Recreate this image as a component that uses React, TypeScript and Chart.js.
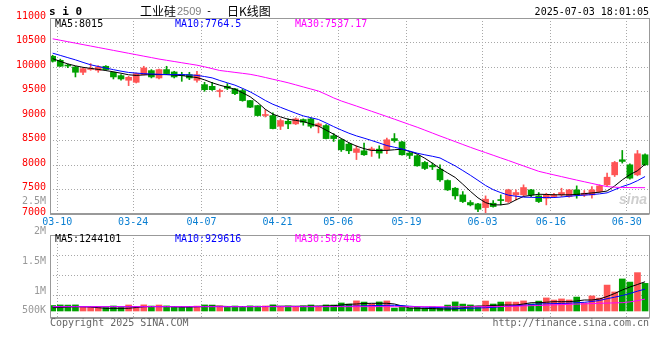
import React, { useEffect, useRef } from "react";
import { Chart, registerables } from "chart.js";

Chart.register(...registerables);

// ---------------- DATA ----------------
const DATES = [
  "03-10","03-11","03-12","03-13","03-14","03-17","03-18","03-19","03-20","03-21",
  "03-24","03-25","03-26","03-27","03-28","03-31","04-01","04-02","04-03","04-07",
  "04-08","04-09","04-10","04-11","04-14","04-15","04-16","04-17","04-18","04-21",
  "04-22","04-23","04-24","04-25","04-28","04-29","04-30","05-06","05-07","05-08",
  "05-09","05-12","05-13","05-14","05-15","05-16","05-19","05-20","05-21","05-22",
  "05-23","05-26","05-27","05-28","05-29","05-30","06-03","06-04","06-05","06-06",
  "06-09","06-10","06-11","06-12","06-13","06-16","06-17","06-18","06-19","06-20",
  "06-23","06-24","06-25","06-26","06-27","06-30","07-01","07-02","07-03",
];

const X_LABELS = ["03-10","03-24","04-07","04-21","05-06","05-19","06-03","06-16","06-30"];

const OPEN = [
  10219,10137,10040,10001,9892,9950,9933,10015,9892,9824,
  9729,9688,9844,9926,9776,9947,9899,9844,9844,9729,
  9640,9606,9500,9607,9553,9519,9315,9213,9010,9009,
  8791,8893,8839,8927,8941,8791,8805,8597,8515,8427,
  8256,8290,8305,8324,8311,8539,8471,8243,8188,8052,
  7990,7915,7683,7526,7390,7234,7206,7131,7220,7288,
  7254,7390,7390,7492,7370,7322,7356,7390,7356,7492,
  7390,7390,7458,7595,7799,8107,8004,7799,8209,
];
const HIGH = [
  10240,10160,10060,10015,9981,10070,10028,10028,9900,9844,
  9810,9878,10015,9947,9960,10015,9913,9892,9892,9913,
  9688,9688,9551,9661,9566,9553,9320,9220,9130,9063,
  8941,8941,8961,8941,8961,8859,8825,8642,8533,8447,
  8392,8447,8365,8392,8549,8642,8485,8277,8209,8073,
  8039,8004,7697,7540,7458,7274,7220,7370,7274,7390,
  7506,7492,7595,7506,7438,7424,7424,7526,7506,7574,
  7479,7560,7595,7833,8073,8297,8025,8297,8229,
];
const LOW = [
  10100,10010,9985,9797,9845,9933,9892,9933,9756,9729,
  9620,9674,9838,9776,9756,9844,9776,9708,9742,9688,
  9504,9524,9388,9539,9437,9301,9170,9000,8980,8737,
  8723,8743,8825,8812,8757,8655,8533,8481,8277,8229,
  8111,8195,8175,8138,8229,8465,8200,8131,7975,7907,
  7907,7663,7479,7302,7234,7165,7050,7016,7138,7186,
  7234,7288,7356,7356,7234,7186,7342,7356,7342,7322,
  7356,7322,7438,7574,7765,8039,7711,7780,7990,
];
const CLOSE = [
  10117,10015,10020,9892,9967,9960,10001,9947,9797,9756,
  9790,9865,9981,9797,9947,9865,9797,9824,9776,9844,
  9537,9537,9510,9566,9457,9315,9179,9009,9030,8743,
  8907,8839,8941,8873,8791,8839,8539,8539,8311,8290,
  8331,8209,8330,8243,8515,8499,8209,8195,7983,7929,
  7962,7697,7492,7370,7254,7186,7097,7302,7152,7274,
  7492,7438,7540,7390,7254,7390,7390,7438,7492,7390,
  7424,7492,7574,7751,8052,8073,7731,8229,8004,
];

const MA5 = [
  10170,10115,10063,10024,9993,9972,9951,9927,9902,9873,
  9841,9828,9838,9845,9845,9845,9835,9825,9805,9784,
  9738,9678,9629,9588,9547,9474,9393,9274,9137,9037,
  8982,8934,8911,8885,8839,8793,8713,8628,8542,8455,
  8386,8334,8297,8297,8298,8311,8323,8276,8224,8138,
  8037,7930,7838,7746,7609,7463,7330,7232,7186,7186,
  7207,7288,7359,7381,7403,7399,7393,7391,7391,7400,
  7415,7430,7445,7469,7573,7697,7803,7883,8015,
];
const MA10 = [
  10282,10237,10191,10146,10094,10045,10011,9978,9946,9915,
  9889,9876,9864,9858,9851,9845,9845,9845,9840,9828,
  9806,9778,9725,9677,9630,9564,9493,9408,9317,9239,
  9177,9117,9058,9002,8965,8929,8858,8783,8714,8649,
  8594,8548,8500,8449,8397,8362,8327,8284,8241,8208,
  8178,8144,8063,7982,7887,7790,7687,7582,7497,7436,
  7385,7363,7344,7340,7336,7336,7336,7347,7363,7375,
  7385,7396,7411,7432,7496,7560,7610,7680,7764.5,
];
const MA30 = [
  10575,10546,10516,10487,10457,10428,10398,10369,10339,10310,
  10280,10251,10221,10192,10162,10137,10112,10087,10062,10037,
  10004,9967,9929,9910,9890,9871,9851,9821,9786,9750,
  9715,9678,9636,9593,9551,9509,9441,9369,9307,9255,
  9203,9149,9096,9043,8989,8935,8880,8825,8771,8712,
  8652,8592,8535,8477,8419,8361,8306,8253,8199,8145,
  8092,8036,7981,7926,7871,7834,7798,7763,7727,7692,
  7658,7624,7590,7559,7547,7540,7539,7538,7537.17,
];

const VOLUME = [
  234000,257000,252000,259000,168000,172000,166000,148000,214000,151000,
  256000,169000,261000,211000,254000,216000,171000,167000,174000,209000,
  258000,253000,215000,169000,212000,173000,218000,208000,214000,262000,
  176000,213000,165000,217000,256000,172000,259000,
  255000,342000,296000,431000,380000,301000,386000,428000,126000,215000,
  131000,168000,125000,173000,129000,252000,387000,294000,258000,171000,
  424000,297000,381000,386000,379000,429000,301000,421000,556000,466000,
  514000,470000,593000,343000,641000,549000,1103000,811000,1364000,1231000,
  1633000,1176000,
];
const VOL_MA5 = [
  140000,149000,171000,183000,182000,169000,141000,116000,113000,115000,
  117000,149000,183000,192000,190000,191000,184000,170000,171000,182000,
  192000,204000,203000,193000,190000,191000,189000,192000,190000,203000,
  205000,204000,202000,205000,204000,212000,214000,
  226000,255000,285000,298000,319000,328000,327000,329000,298000,213000,
  128000,115000,114000,106000,85000,86000,84000,128000,191000,213000,
  212000,234000,255000,256000,254000,298000,353000,352000,374000,396000,
  395000,397000,426000,468000,467000,511000,617000,745000,894000,1021000,
  1128000,1244101,
];
const VOL_MA10 = [
  186000,188000,187000,189000,186000,185000,187000,186000,188000,187000,
  186000,185000,187000,189000,188000,187000,186000,185000,186000,188000,
  189000,190000,189000,188000,187000,188000,189000,190000,191000,190000,
  189000,190000,191000,190000,189000,190000,188000,
  191000,200000,204000,213000,217000,226000,234000,243000,242000,226000,
  204000,183000,166000,157000,145000,132000,119000,115000,119000,128000,
  140000,153000,183000,208000,226000,247000,272000,298000,306000,315000,
  323000,328000,353000,370000,404000,447000,523000,587000,660000,745000,
  843000,929616,
];
const VOL_MA30 = [
  182000,183000,183000,182000,181000,182000,183000,184000,183000,182000,
  182000,183000,184000,184000,183000,182000,182000,183000,184000,184000,
  183000,183000,182000,181000,181000,182000,183000,183000,184000,185000,
  185000,184000,183000,183000,184000,185000,186000,186000,185000,184000,
  184000,185000,186000,186000,185000,184000,183000,182000,182000,183000,
  183000,182000,181000,181000,182000,183000,183000,184000,186000,
  191000,196000,204000,213000,226000,234000,247000,260000,272000,285000,
  294000,302000,315000,328000,336000,345000,353000,387000,438000,507448,
];

const PRICE_LEGEND = ["MA5:8015", "MA10:7764.5", "MA30:7537.17"];
const VOL_LEGEND = ["MA5:1244101", "MA10:929616", "MA30:507448"];
const VOL_AXIS_LABELS = ["2.5M", "2M", "1.5M", "1M", "500K"];

// ---------------- STYLE / LAYOUT ----------------
const UP = "#ff5555";
const DOWN = "#00a000";
const GRID = "#a8a8a8";
const FRAME = "#999999";
const MONO = "'DejaVu Sans Mono', monospace";
const CJK = "'Noto Sans CJK SC', sans-serif";
const LINE_COLORS = ["#000000", "#0000ff", "#ff00ff"];

const X_MIN = -0.35;
const X_MAX = DATES.length - 0.35;
const GRID_SHIFT = 0.6; // grid line sits on the slot boundary after the labelled day
const VOL_MIN = -298000;
const VOL_MAX = 3234000;
const VOL_GRID_FRACTIONS = [0.245, 0.486, 0.727];
const VOL_LABEL_Y = [201, 230.7, 260.7, 290.7, 310.3];

const candleColors = CLOSE.map((c, i) => (c >= OPEN[i] ? UP : DOWN));
const labelIdx = X_LABELS.map((l) => DATES.indexOf(l));

const framePlugin = {
  id: "frame",
  afterDraw(chart: any) {
    const { ctx, chartArea: a } = chart;
    ctx.save();
    ctx.strokeStyle = FRAME;
    ctx.lineWidth = 1;
    const l = Math.round(a.left) + 0.5;
    const r = Math.round(a.right) - 0.5;
    const t = Math.round(a.top) + 0.5;
    const b = Math.round(a.bottom) - 0.5;
    ctx.strokeRect(l, t, r - l, b - t);
    ctx.beginPath();
    ctx.moveTo(l, b + 1);
    ctx.lineTo(r, b + 1);
    ctx.stroke();
    ctx.restore();
  },
};

function xScale(showLabels: boolean) {
  return {
    type: "linear",
    min: X_MIN,
    max: X_MAX,
    offset: false,
    grid: { offset: false, color: GRID, lineWidth: 1, drawTicks: false },
    border: { display: false, dash: [1, 2] },
    afterBuildTicks: (ax: any) => {
      ax.ticks = labelIdx.map((d) => ({ value: d + GRID_SHIFT }));
    },
    afterFit: (ax: any) => {
      ax.height = showLabels ? 18 : 0;
    },
    ticks: {
      display: showLabels,
      autoSkip: false,
      maxRotation: 0,
      minRotation: 0,
      padding: 2,
      color: "#0a7fd2",
      font: { family: MONO, size: 10 },
      callback: (v: any) => DATES[Math.round(Number(v) - GRID_SHIFT)] ?? "",
    },
  };
}

function lineDs(label: string, values: number[], color: string) {
  return {
    type: "line",
    label,
    data: values.map((v, i) => ({ x: i, y: v })),
    borderColor: color,
    borderWidth: 1,
    pointRadius: 0,
    tension: 0,
    fill: false,
    order: 0,
  };
}

function priceConfig(): any {
  return {
    type: "bar",
    data: {
      datasets: [
        lineDs("MA30", MA30, LINE_COLORS[2]),
        lineDs("MA10", MA10, LINE_COLORS[1]),
        lineDs("MA5", MA5, LINE_COLORS[0]),
        {
          type: "bar",
          label: "body",
          data: OPEN.map((o, i) => ({ x: i, y: [Math.min(o, CLOSE[i]), Math.max(o, CLOSE[i])] })),
          backgroundColor: candleColors,
          barThickness: 6,
          grouped: false,
          minBarLength: 1,
          borderWidth: 0,
          order: 1,
        },
        {
          type: "bar",
          label: "wick",
          data: HIGH.map((h, i) => ({ x: i, y: [LOW[i], h] })),
          backgroundColor: candleColors,
          barThickness: 1,
          grouped: false,
          borderWidth: 0,
          order: 2,
        },
      ],
    },
    options: {
      responsive: false,
      animation: false,
      events: [],
      layout: { padding: { top: 18, right: 10, left: 0, bottom: 0 } },
      plugins: { legend: { display: false }, tooltip: { enabled: false } },
      scales: {
        x: xScale(true),
        y: {
          type: "linear",
          min: 7000,
          max: 11000,
          grid: { color: GRID, lineWidth: 1, drawTicks: false },
          border: { display: false, dash: [1, 2] },
          afterFit: (ax: any) => {
            ax.width = 50;
          },
          ticks: {
            stepSize: 500,
            padding: 4,
            labelOffset: -2,
            color: "#ff0000",
            font: { family: MONO, size: 10 },
            callback: (v: any) => String(v),
          },
        },
      },
    },
    plugins: [framePlugin],
  };
}

function volumeConfig(): any {
  return {
    type: "bar",
    data: {
      datasets: [
        lineDs("VMA30", VOL_MA30, LINE_COLORS[2]),
        lineDs("VMA10", VOL_MA10, LINE_COLORS[1]),
        lineDs("VMA5", VOL_MA5, LINE_COLORS[0]),
        {
          type: "bar",
          label: "volume",
          data: VOLUME.map((v, i) => ({ x: i, y: v })),
          backgroundColor: candleColors,
          barThickness: 6,
          grouped: false,
          borderWidth: 0,
          order: 1,
        },
      ],
    },
    options: {
      responsive: false,
      animation: false,
      events: [],
      layout: { padding: { top: 9, right: 10, left: 0, bottom: 20 } },
      plugins: { legend: { display: false }, tooltip: { enabled: false } },
      scales: {
        x: xScale(false),
        y: {
          type: "linear",
          min: VOL_MIN,
          max: VOL_MAX,
          grid: { color: GRID, lineWidth: 1, drawTicks: false },
          border: { display: false, dash: [1, 2] },
          afterBuildTicks: (ax: any) => {
            ax.ticks = VOL_GRID_FRACTIONS.map((f) => ({ value: VOL_MAX - f * (VOL_MAX - VOL_MIN) }));
          },
          afterFit: (ax: any) => {
            ax.width = 50;
          },
          ticks: { display: false },
        },
      },
    },
    plugins: [framePlugin],
  };
}

function Txt(props: any) {
  const { x, right, y, size = 10, color = "#000", family = MONO, weight = "normal", style = {}, children } = props;
  const s: any = {
    position: "absolute",
    top: y - size / 2,
    fontFamily: family,
    fontSize: size,
    lineHeight: `${size}px`,
    color,
    fontWeight: weight,
    whiteSpace: "pre",
    ...style,
  };
  if (right !== undefined) s.right = 660 - right;
  else s.left = x;
  return <div style={s}>{children}</div>;
}

export default function App() {
  const priceRef = useRef<HTMLCanvasElement>(null);
  const volRef = useRef<HTMLCanvasElement>(null);

  useEffect(() => {
    const c1 = new Chart(priceRef.current as HTMLCanvasElement, priceConfig());
    const c2 = new Chart(volRef.current as HTMLCanvasElement, volumeConfig());
    return () => {
      c1.destroy();
      c2.destroy();
    };
  }, []);

  return (
    <div
      style={{
        position: "fixed",
        left: 0,
        top: 0,
        width: 660,
        height: 360,
        background: "#ffffff",
        overflow: "hidden",
      }}
    >
      <canvas ref={priceRef} width={660} height={232} style={{ position: "absolute", left: 0, top: 0 }} />
      <canvas ref={volRef} width={660} height={112} style={{ position: "absolute", left: 0, top: 226 }} />

      {/* header */}
      <Txt x={49} y={11} size={11} weight="bold">s i 0</Txt>
      <Txt x={140} y={10.5} size={12} family={CJK}>工业硅</Txt>
      <Txt x={177} y={11} size={11} family="'Liberation Sans', sans-serif" color="#808080">2509</Txt>
      <Txt x={206} y={10.5} size={10}>-</Txt>
      <Txt x={227} y={10.5} size={12} family={CJK}>日K线图</Txt>
      <Txt right={649} y={12.3} size={10}>2025-07-03 18:01:05</Txt>

      {/* price legend */}
      <Txt x={55} y={24} color={LINE_COLORS[0]}>{PRICE_LEGEND[0]}</Txt>
      <Txt x={175} y={24} color={LINE_COLORS[1]}>{PRICE_LEGEND[1]}</Txt>
      <Txt x={295} y={24} color={LINE_COLORS[2]}>{PRICE_LEGEND[2]}</Txt>

      {/* volume legend */}
      <Txt x={55} y={238.5} color={LINE_COLORS[0]}>{VOL_LEGEND[0]}</Txt>
      <Txt x={175} y={238.5} color={LINE_COLORS[1]}>{VOL_LEGEND[1]}</Txt>
      <Txt x={295} y={238.5} color={LINE_COLORS[2]}>{VOL_LEGEND[2]}</Txt>

      {/* volume axis labels */}
      {VOL_AXIS_LABELS.map((l, i) => (
        <Txt key={l} right={46} y={VOL_LABEL_Y[i]} color="#999999">{l}</Txt>
      ))}

      {/* watermark */}
      <Txt x={619} y={199} size={14} family="'Liberation Sans', sans-serif" weight="bold" color="#cfcfcf" style={{ fontStyle: "italic" }}>sina</Txt>

      {/* footer */}
      <Txt x={50} y={322.7} color="#666666">Copyright 2025 SINA.COM</Txt>
      <Txt right={649} y={323} color="#666666">http://finance.sina.com.cn</Txt>
    </div>
  );
}
